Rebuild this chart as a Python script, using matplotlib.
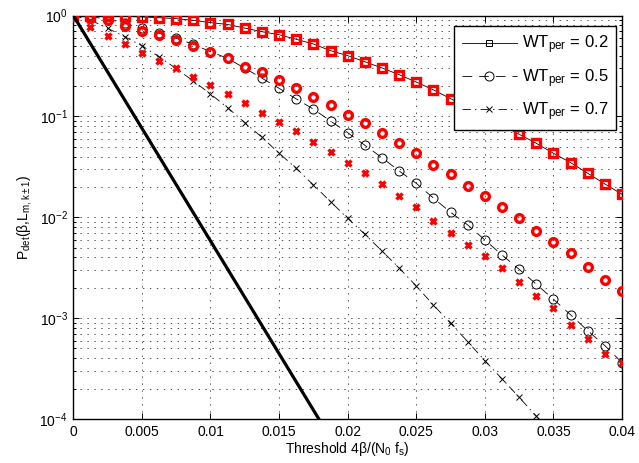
import numpy as np
import matplotlib
matplotlib.use("Agg")
import matplotlib.pyplot as plt
from matplotlib.ticker import FixedLocator, FuncFormatter, LogLocator, NullFormatter

plt.rcParams['font.family'] = ['Liberation Sans', 'DejaVu Sans']
plt.rcParams['mathtext.fontset'] = 'custom'
plt.rcParams['mathtext.rm'] = 'Liberation Sans'
plt.rcParams['mathtext.it'] = 'Liberation Sans:italic'
plt.rcParams['mathtext.bf'] = 'Liberation Sans:bold'
plt.rcParams['lines.scale_dashes'] = False

# ---- data ----
threshold = np.linspace(0.0, 0.04, 33)

theory_wt02 = [1.0, 0.995, 0.99, 0.98, 0.97, 0.95, 0.93, 0.895, 0.85, 0.815, 0.75,
               0.691, 0.645, 0.581, 0.522, 0.448, 0.40, 0.348, 0.302, 0.259, 0.219,
               0.183, 0.150, 0.124, 0.101, 0.0822, 0.0665, 0.0541, 0.0431, 0.0348,
               0.0273, 0.0214, 0.0169]
theory_wt05 = [1.0, 0.97, 0.923, 0.837, 0.747, 0.666, 0.594, 0.518, 0.438, 0.376,
               0.300, 0.239, 0.190, 0.149, 0.118, 0.090, 0.069, 0.0517, 0.039,
               0.0288, 0.0217, 0.0155, 0.0112, 0.0084, 0.00596, 0.00423, 0.00305,
               0.00217, 0.00154, 0.00108, 0.00075, 0.000534, 0.000362]
theory_wt07 = [1.0, 0.902, 0.747, 0.616, 0.502, 0.391, 0.298, 0.224, 0.1667, 0.122,
               0.0866, 0.0621, 0.0431, 0.0306, 0.0209, 0.0143, 0.00977, 0.00679,
               0.00463, 0.00315, 0.00208, 0.00135, 0.00089, 0.000585, 0.000379,
               0.00025, 0.000164, 0.000107, 6.9e-5, 4.5e-5, 2.9e-5, 1.9e-5, 1.2e-5]

sim_wt02 = theory_wt02
sim_wt05 = [1.0, 0.95, 0.90, 0.792, 0.702, 0.641, 0.572, 0.502, 0.435, 0.376,
            0.311, 0.277, 0.230, 0.190, 0.1546, 0.130, 0.103, 0.0855, 0.069,
            0.054, 0.043, 0.0331, 0.0269, 0.0204, 0.01626, 0.01274, 0.00977,
            0.00736, 0.00565, 0.0044, 0.00324, 0.00239, 0.00186]
sim_wt07 = [1.0, 0.774, 0.626, 0.518, 0.428, 0.354, 0.300, 0.247, 0.205, 0.1656,
            0.1367, 0.1088, 0.0886, 0.0717, 0.0561, 0.0447, 0.0343, 0.0273, 0.0212,
            0.01626, 0.01257, 0.00919, 0.00703, 0.00531, 0.00413, 0.00313, 0.0023,
            0.00167, 0.00125, 0.000857, 0.000618, 0.000442, 0.000362]

bound_x = [0.0, 0.0179]
bound_y = [1.0, 1e-4]

legend_labels = [r'WT$_{\mathregular{per}}$ = 0.2',
                 r'WT$_{\mathregular{per}}$ = 0.5',
                 r'WT$_{\mathregular{per}}$ = 0.7']
xtick_vals = [0, 0.005, 0.01, 0.015, 0.02, 0.025, 0.03, 0.035, 0.04]

# ---- figure ----
fig = plt.figure(figsize=(6.39, 4.63), dpi=100)
ax = fig.add_axes([73.3/639, 44/463, 548.7/639, 403.5/463])

ax.set_yscale('log')
ax.set_xlim(0, 0.04)
ax.set_ylim(1e-4, 1)

l1, = ax.plot(threshold, theory_wt02, '-', color='k', lw=0.6, marker='s', ms=5,
              mfc='none', mec='k', mew=0.7, zorder=3)
l2, = ax.plot(threshold, theory_wt05, color='k', lw=0.6, dashes=(7, 5), marker='o',
              ms=6.5, mfc='none', mec='k', mew=0.7, zorder=3)
l3, = ax.plot(threshold, theory_wt07, color='k', lw=0.6, dashes=(6, 3, 1, 3), marker='x',
              ms=5, mec='k', mew=0.7, zorder=3)

ax.plot(threshold, sim_wt02, linestyle='none', marker='s', ms=5.6, mfc='none',
        mec='#ff0000', mew=2.4, zorder=4)
ax.plot(threshold, sim_wt05, linestyle='none', marker='o', ms=5.6, mfc='none',
        mec='#ff0000', mew=2.4, zorder=4)
ax.plot(threshold, sim_wt07, linestyle='none', marker='x', ms=5, mec='#ff0000',
        mew=2.4, zorder=4)

ax.plot(bound_x, bound_y, '-', color='k', lw=2.3, zorder=5)

# ticks
ax.xaxis.set_major_locator(FixedLocator(xtick_vals))
ax.xaxis.set_major_formatter(FuncFormatter(lambda v, p: '%g' % v))
ax.yaxis.set_major_locator(LogLocator(base=10, numticks=10))
ax.yaxis.set_minor_locator(LogLocator(base=10, subs=np.arange(2, 10), numticks=20))
ax.yaxis.set_minor_formatter(NullFormatter())
ax.tick_params(which='both', direction='in', top=True, right=True, labelsize=10,
               colors='k', width=0.7)
ax.tick_params(which='major', length=4.5, pad=4)
ax.tick_params(which='minor', length=2.5)

ax.grid(True, which='major', axis='both', color='#333333', lw=0.6, linestyle=(0, (1, 4)))
ax.grid(True, which='minor', axis='y', color='#333333', lw=0.6, linestyle=(0, (1, 4)))
ax.set_axisbelow(True)

for s in ax.spines.values():
    s.set_linewidth(1.0)

ax.set_xlabel(r'Threshold 4$\mathregular{\beta}$/(N$_{\mathregular{0}}$ f$_{\mathregular{s}}$)',
              fontsize=10, labelpad=1)
ax.set_ylabel(r'P$_{\mathregular{det}}$($\mathregular{\beta}$,L$_{\mathregular{m,k\pm1}}$)',
              fontsize=10, labelpad=4)

leg = ax.legend([l1, l2, l3], legend_labels, loc='upper right',
                bbox_to_anchor=(0.9885, 0.974), borderaxespad=0, fontsize=12,
                numpoints=1, handlelength=3.3, handletextpad=0.3, labelspacing=0.65,
                borderpad=0.45, fancybox=False, framealpha=1, edgecolor='k')
leg.get_frame().set_linewidth(1.0)
leg.set_zorder(10)

fig.savefig('out.png', dpi=100)
